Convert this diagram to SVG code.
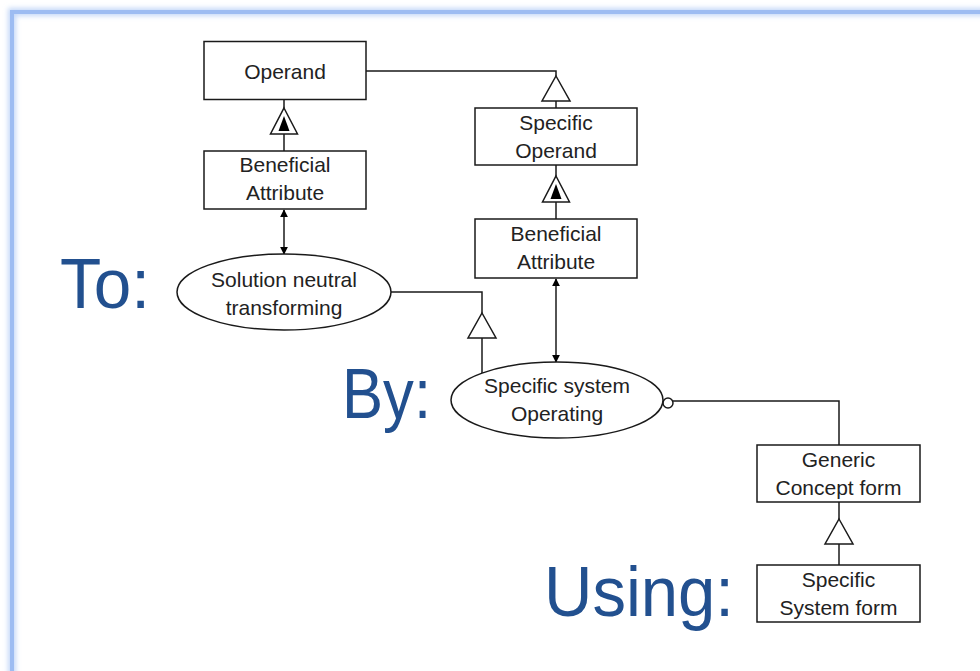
<svg xmlns="http://www.w3.org/2000/svg" width="980" height="671" viewBox="0 0 980 671">
  <style>
    .box { fill: #fff; stroke: #1a1a1a; stroke-width: 1.5; }
    .lbl { font-family: "Liberation Sans", Arial, sans-serif; font-size: 21px; fill: #222; text-anchor: middle; }
    .big { font-family: "Liberation Sans", Arial, sans-serif; font-size: 70px; fill: #22508f; }
    .wire { fill: none; stroke: #1a1a1a; stroke-width: 1.5; }
    .tri { fill: #fff; stroke: #1a1a1a; stroke-width: 1.5; }
    .solid { fill: #000; }
  </style>
  <defs>
    <filter id="glow" x="-5%" y="-5%" width="110%" height="110%">
      <feGaussianBlur stdDeviation="2.5"/>
    </filter>
    <marker id="head" viewBox="0 0 10 10" refX="9" refY="5" markerWidth="8" markerHeight="8" markerUnits="userSpaceOnUse" orient="auto-start-reverse">
      <path d="M0,0 L10,5 L0,10 z" fill="#000"/>
    </marker>
    <!-- hollow generalization triangle, apex at origin -->
    <polygon id="gen" points="0,0 14,25 -14,25" class="tri"/>
    <!-- hollow triangle with solid inner triangle, apex at origin -->
    <g id="agg">
      <polygon points="0,0 13.5,26 -13.5,26" class="tri"/>
      <polygon points="0,8 5.5,23 -5.5,23" class="solid"/>
    </g>
  </defs>

  <rect width="980" height="671" fill="#fff"/>

  <!-- slide frame -->
  <rect x="12" y="12" width="1000" height="700" fill="none" stroke="#c5d8f8" stroke-width="8" filter="url(#glow)"/>
  <rect x="12" y="12" width="1000" height="700" fill="none" stroke="#9dbcf2" stroke-width="4"/>

  <!-- section labels -->
  <text class="big" x="60" y="308" textLength="90" lengthAdjust="spacingAndGlyphs">To:</text>
  <text class="big" x="342" y="418" textLength="89" lengthAdjust="spacingAndGlyphs">By:</text>
  <text class="big" x="544" y="616" textLength="190" lengthAdjust="spacingAndGlyphs">Using:</text>

  <g id="connectors">
    <!-- Operand to Specific Operand -->
    <polyline class="wire" points="366,71 556,71 556,76"/>
    <line class="wire" x1="556" y1="101" x2="556" y2="108"/>
    <use href="#gen" x="556" y="76"/>
    <!-- Operand to left Beneficial Attribute -->
    <line class="wire" x1="284" y1="100" x2="284" y2="108"/>
    <line class="wire" x1="284" y1="134" x2="284" y2="151"/>
    <use href="#agg" x="284" y="108"/>
    <!-- Specific Operand to right Beneficial Attribute -->
    <line class="wire" x1="556" y1="165" x2="556" y2="176"/>
    <line class="wire" x1="556" y1="202" x2="556" y2="219"/>
    <use href="#agg" x="556" y="176"/>
    <!-- attribute links -->
    <line class="wire" x1="284" y1="210" x2="284" y2="254" marker-start="url(#head)" marker-end="url(#head)"/>
    <line class="wire" x1="556" y1="279" x2="556" y2="362" marker-start="url(#head)" marker-end="url(#head)"/>
    <!-- transforming to operating -->
    <polyline class="wire" points="391,292 482,292 482,313"/>
    <line class="wire" x1="482" y1="338" x2="482" y2="373"/>
    <use href="#gen" x="482" y="313"/>
    <!-- operating to form -->
    <circle class="tri" cx="668" cy="403" r="5"/>
    <polyline class="wire" points="673,401 839,401 839,445"/>
    <line class="wire" x1="839" y1="502" x2="839" y2="519"/>
    <line class="wire" x1="839" y1="544" x2="839" y2="565"/>
    <use href="#gen" x="839" y="519"/>
  </g>

  <g id="operand">
    <rect class="box" x="204" y="41.5" width="162" height="58"/>
    <text class="lbl" x="285" y="79">Operand</text>
  </g>
  <g id="beneficial-attribute-1">
    <rect class="box" x="204" y="151" width="162" height="58"/>
    <text class="lbl" x="285" y="172">Beneficial</text>
    <text class="lbl" x="285" y="200">Attribute</text>
  </g>
  <g id="specific-operand">
    <rect class="box" x="475" y="108" width="162" height="57"/>
    <text class="lbl" x="556" y="130">Specific</text>
    <text class="lbl" x="556" y="158">Operand</text>
  </g>
  <g id="beneficial-attribute-2">
    <rect class="box" x="475" y="219" width="162" height="59"/>
    <text class="lbl" x="556" y="241">Beneficial</text>
    <text class="lbl" x="556" y="269">Attribute</text>
  </g>
  <g id="solution-neutral">
    <ellipse class="box" cx="284" cy="292" rx="107" ry="38"/>
    <text class="lbl" x="284" y="287">Solution neutral</text>
    <text class="lbl" x="284" y="315">transforming</text>
  </g>
  <g id="specific-operating">
    <ellipse class="box" cx="557" cy="400" rx="106" ry="38"/>
    <text class="lbl" x="557" y="393">Specific system</text>
    <text class="lbl" x="557" y="421">Operating</text>
  </g>
  <g id="generic-concept-form">
    <rect class="box" x="757" y="445" width="163" height="57"/>
    <text class="lbl" x="838.5" y="467">Generic</text>
    <text class="lbl" x="838.5" y="495">Concept form</text>
  </g>
  <g id="specific-system-form">
    <rect class="box" x="757" y="565" width="163" height="57"/>
    <text class="lbl" x="838.5" y="587">Specific</text>
    <text class="lbl" x="838.5" y="615">System form</text>
  </g>
</svg>
